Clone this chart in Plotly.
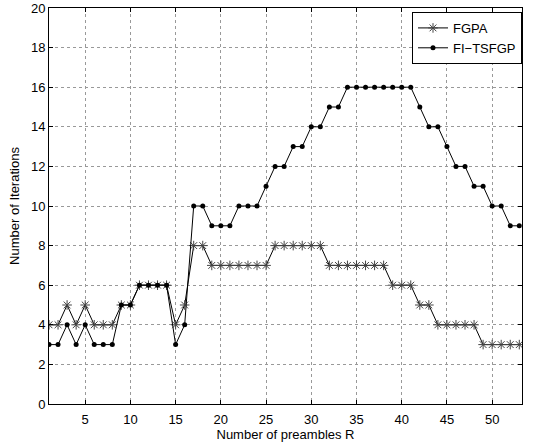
import plotly.graph_objects as go

R = list(range(1, 54))
fgpa = [4, 4, 5, 4, 5, 4, 4, 4, 5, 5, 6, 6, 6, 6, 4, 5, 8, 8, 7, 7,
        7, 7, 7, 7, 7, 8, 8, 8, 8, 8, 8, 7, 7, 7, 7, 7, 7, 7, 6, 6,
        6, 5, 5, 4, 4, 4, 4, 4, 3, 3, 3, 3, 3]
fitsfgp = [3, 3, 4, 3, 4, 3, 3, 3, 5, 5, 6, 6, 6, 6, 3, 4, 10, 10, 9, 9,
           9, 10, 10, 10, 11, 12, 12, 13, 13, 14, 14, 15, 15, 16, 16, 16, 16, 16, 16, 16,
           16, 15, 14, 14, 13, 12, 12, 11, 11, 10, 10, 9, 9]
xticks = [5, 10, 15, 20, 25, 30, 35, 40, 45, 50]
yticks = list(range(0, 21, 2))

fig = go.Figure()
fig.add_trace(go.Scatter(
    x=R, y=fgpa, name="FGPA", mode="lines+markers",
    line=dict(color="black", width=1),
    marker=dict(symbol="asterisk-open", size=8, color="#444444",
                line=dict(color="#444444", width=1)),
))
fig.add_trace(go.Scatter(
    x=R, y=fitsfgp, name="FI\u2212TSFGP", mode="lines+markers",
    line=dict(color="black", width=1),
    marker=dict(symbol="circle", size=5, color="black"),
))

axis_common = dict(
    showline=True, linecolor="black", linewidth=1, mirror="ticks",
    ticks="inside", ticklen=4, tickcolor="black",
    showgrid=True, gridcolor="#999999", griddash="dot", gridwidth=1,
    zeroline=False, automargin=False,
    tickfont=dict(family="Liberation Sans, Arial, sans-serif", size=13, color="black"),
)

fig.update_layout(
    width=554, height=446,
    margin=dict(l=49, r=32, t=8, b=42, autoexpand=False),
    paper_bgcolor="white", plot_bgcolor="white",
    font=dict(family="Liberation Sans, Arial, sans-serif", size=13, color="black"),
    xaxis=dict(range=[1, 53.3], tickvals=xticks, ticklabelstandoff=3,
               title=dict(text="Number of preambles R", standoff=0,
                          font=dict(size=13)),
               **axis_common),
    yaxis=dict(range=[0, 20], tickvals=yticks,
               title=dict(text="Number of Iterations", standoff=8,
                          font=dict(size=13)),
               **axis_common),
    legend=dict(x=1.0, y=0.99, xanchor="right", yanchor="top",
                bgcolor="white", bordercolor="black", borderwidth=1,
                font=dict(size=13), tracegroupgap=0),
    showlegend=True,
)

fig.write_html("out.html", config={"displayModeBar": False},
               post_script="document.body.style.margin='0';document.body.style.overflow='hidden';")
